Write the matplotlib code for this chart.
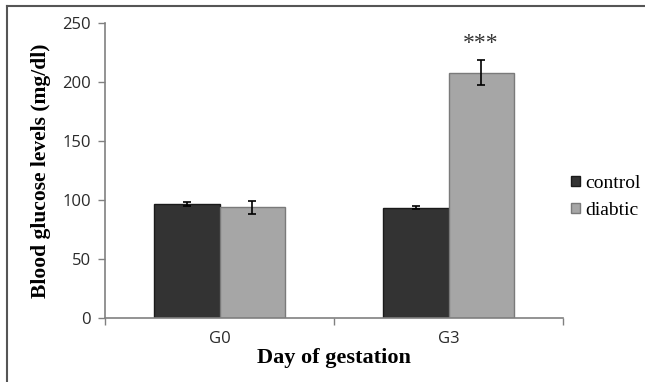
import matplotlib
matplotlib.use("Agg")
import matplotlib.pyplot as plt
import numpy as np
from matplotlib.lines import Line2D

# data
days = ["G0", "G3"]
control = [96.5, 93.5]
control_err = [1.5, 1.5]
diabetic = [94, 208]
diabetic_err = [5.5, 10.5]
groups = ["control", "diabtic"]

fig = plt.figure(figsize=(6.45, 3.82), dpi=100)
ax = fig.add_axes([0.1628, 0.1675, 0.7101, 0.7723])

x = np.arange(len(days))
w = 0.284
ax.bar(x - w / 2, control, w, color="#333333", edgecolor="#1a1a1a", linewidth=1.0,
       yerr=control_err, capsize=3, error_kw=dict(ecolor="black", elinewidth=1.2, capthick=1.2),
       label=groups[0])
ax.bar(x + w / 2, diabetic, w, color="#a6a6a6", edgecolor="#7a7a7a", linewidth=1.0,
       yerr=diabetic_err, capsize=3, error_kw=dict(ecolor="black", elinewidth=1.2, capthick=1.2),
       label=groups[1])

ax.text(x[1] + w / 2, 233, "***", ha="center", va="center", fontsize=17,
        family="Liberation Serif", color="#333333")

ax.set_xlim(-0.5, 1.5)
ax.set_ylim(0, 250)
ax.set_yticks([0, 50, 100, 150, 200, 250])
ax.set_xticks(x)
ax.set_xticklabels(days)
ax.set_xticks([-0.5, 0.5, 1.5], minor=True)
ax.tick_params(axis="x", which="major", length=0, pad=9)
ax.tick_params(axis="x", which="minor", length=5, color="#808080", width=1)
ax.tick_params(axis="y", length=5, color="#808080", width=1, pad=5)
for lbl in ax.get_xticklabels() + ax.get_yticklabels():
    lbl.set_family("Open Sans")
    lbl.set_fontsize(12)
    lbl.set_color("#2a2a2a")

for s in ["top", "right"]:
    ax.spines[s].set_visible(False)
for s in ["left", "bottom"]:
    ax.spines[s].set_color("#808080")
    ax.spines[s].set_linewidth(1.2)

ax.set_ylabel("Blood glucose levels (mg/dl)", family="Liberation Serif", fontweight="bold",
              fontsize=15.5, labelpad=8)
ax.set_xlabel("Day of gestation", family="Liberation Serif", fontweight="bold",
              fontsize=16, labelpad=1)

leg = ax.legend(loc="center left", bbox_to_anchor=(0.98, 0.41), frameon=False,
                prop={"family": "Liberation Serif", "size": 14},
                handlelength=0.45, handleheight=0.45, handletextpad=0.25, labelspacing=0.5)

# frame lines at left and top of the figure
fig.add_artist(Line2D([7 / 645, 7 / 645], [0, 1 - 6 / 382], color="#555555", lw=1.5))
fig.add_artist(Line2D([7 / 645, 1], [1 - 6 / 382, 1 - 6 / 382], color="#555555", lw=1.5))

fig.savefig("out.png", dpi=100)
